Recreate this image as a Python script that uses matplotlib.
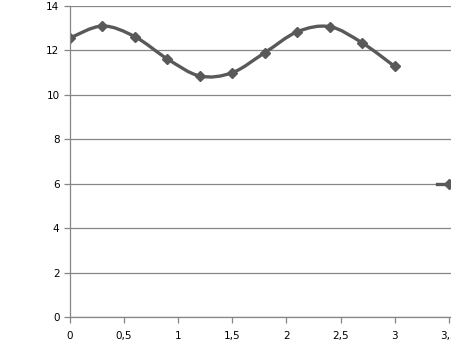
import matplotlib
matplotlib.use("Agg")
import matplotlib.pyplot as plt
from matplotlib.path import Path
from matplotlib.patches import PathPatch
from matplotlib.ticker import FuncFormatter

# data
x_vals = [0.0, 0.3, 0.6, 0.9, 1.2, 1.5, 1.8, 2.1, 2.4, 2.7, 3.0]
y_vals = [12.56, 13.1, 12.62, 11.62, 10.85, 11.0, 11.9, 12.84, 13.07, 12.34, 11.28]
x_tail = [3.39, 3.5]
y_tail = [6.0, 6.0]
x_ticks = [0, 0.5, 1, 1.5, 2, 2.5, 3, 3.5]
y_ticks = [0, 2, 4, 6, 8, 10, 12, 14]

line_col = "#595959"
axis_col = "#868686"


def smooth_path(xs, ys):
    # Excel-like smooth line: cubic bezier segments with catmull-rom tangents
    pts = list(zip(xs, ys))
    verts = [pts[0]]
    codes = [Path.MOVETO]
    n = len(pts)
    for i in range(n - 1):
        p0 = pts[i - 1] if i > 0 else pts[i]
        p1 = pts[i]
        p2 = pts[i + 1]
        p3 = pts[i + 2] if i + 2 < n else pts[i + 1]
        c1 = (p1[0] + (p2[0] - p0[0]) / 6, p1[1] + (p2[1] - p0[1]) / 6)
        c2 = (p2[0] - (p3[0] - p1[0]) / 6, p2[1] - (p3[1] - p1[1]) / 6)
        verts += [c1, c2, p2]
        codes += [Path.CURVE4] * 3
    return Path(verts, codes)


fig = plt.figure(figsize=(4.51, 3.54), dpi=100)
ax = fig.add_axes([0.155, 0.1045, 0.845, 0.8785])

ax.set_xlim(0, 3.52)
ax.set_ylim(0, 14)
ax.set_xticks(x_ticks)
ax.set_yticks(y_ticks)
ax.xaxis.set_major_formatter(FuncFormatter(lambda v, p: f"{v:g}".replace(".", ",")))

ax.grid(axis="y", color=axis_col, linewidth=0.9)
ax.set_axisbelow(True)
for side in ["top", "right"]:
    ax.spines[side].set_visible(False)
for side in ["left", "bottom"]:
    ax.spines[side].set_color(axis_col)
    ax.spines[side].set_linewidth(0.9)
ax.tick_params(colors=axis_col, length=4, width=0.9, labelcolor="black", labelsize=7.5)
ax.tick_params(axis="x", pad=6)

ax.add_patch(PathPatch(smooth_path(x_vals, y_vals), facecolor="none",
                       edgecolor=line_col, linewidth=2.4, capstyle="round"))
ax.plot(x_vals, y_vals, linestyle="none", marker="D", markersize=5.5,
        color=line_col)
ax.plot(x_tail, y_tail, color=line_col, linewidth=2.4, marker="D",
        markersize=5.5, markevery=[1], clip_on=False)

fig.savefig("out.png", dpi=100)
